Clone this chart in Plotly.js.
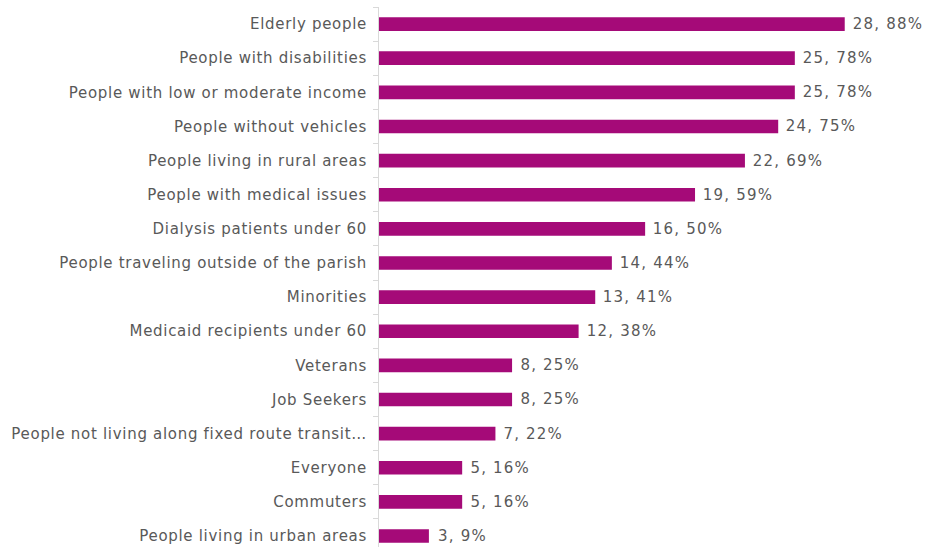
<!DOCTYPE html>
<html><head><meta charset="utf-8">
<script src="https://cdn.plot.ly/plotly-3.0.1.min.js"></script>
<style>html,body{margin:0;padding:0;background:#fff;}#chart{width:947px;height:547px;}
#chart .ytick text{letter-spacing:0.7px;}
#chart .annotation-text{letter-spacing:1.2px;}</style>
</head><body><div id="chart"></div>
<script>
const categories = [
  "People living in urban areas",
  "Commuters",
  "Everyone",
  "People not living along fixed route transit\u2026",
  "Job Seekers",
  "Veterans",
  "Medicaid recipients under 60",
  "Minorities",
  "People traveling outside of the parish",
  "Dialysis patients under 60",
  "People with medical issues",
  "People living in rural areas",
  "People without vehicles",
  "People with low or moderate income",
  "People with disabilities",
  "Elderly people"
];
const counts   = [3, 5, 5, 7, 8, 8, 12, 13, 14, 16, 19, 22, 24, 25, 25, 28];
const percents = [9, 16, 16, 22, 25, 25, 38, 41, 44, 50, 59, 69, 75, 78, 78, 88];

const positions = categories.map((c, i) => i);
const labels = counts.map((v, i) => v + ', ' + percents[i] + '%');
const boundaries = categories.map((c, i) => i + 0.5);

const trace = {
  type: 'bar', orientation: 'h',
  x: counts, y: positions,
  width: 0.4,
  marker: {color: '#A50A78'},
  hoverinfo: 'none'
};
const tickTrace = {
  type: 'scatter', x: [0], y: [0], yaxis: 'y2', mode: 'markers',
  marker: {opacity: 0}, showlegend: false, hoverinfo: 'none'
};

const annotations = counts.map((v, i) => ({
  x: v, y: positions[i], xref: 'x', yref: 'y',
  text: labels[i], showarrow: false,
  xanchor: 'left', yanchor: 'middle', xshift: 10, yshift: 0,
  font: {family: 'DejaVu Sans', size: 15, color: '#595959'}
}));

const layout = {
  width: 947, height: 547,
  margin: {l: 379, r: 69, t: 7, b: 0},
  paper_bgcolor: '#fff', plot_bgcolor: '#fff',
  showlegend: false,
  xaxis: {range: [0, 30], visible: false, fixedrange: true},
  yaxis: {
    range: [-0.322, 15.5],
    tickmode: 'array', tickvals: positions, ticktext: categories,
    ticks: '', showgrid: false, zeroline: false,
    showline: true, linecolor: '#d9d9d9', linewidth: 1,
    ticklabelstandoff: 8,
    tickfont: {family: 'DejaVu Sans', size: 15, color: '#595959'}
  },
  yaxis2: {
    overlaying: 'y', side: 'left', range: [-0.322, 15.5],
    tickmode: 'array', tickvals: boundaries, showticklabels: false,
    ticks: 'outside', ticklen: 5, tickcolor: '#d9d9d9', tickwidth: 1,
    showgrid: false, zeroline: false, showline: false
  },
  annotations: annotations,
  font: {family: 'DejaVu Sans', color: '#595959'}
};

Plotly.newPlot('chart', [trace, tickTrace], layout, {staticPlot: true, displayModeBar: false});
</script></body></html>
